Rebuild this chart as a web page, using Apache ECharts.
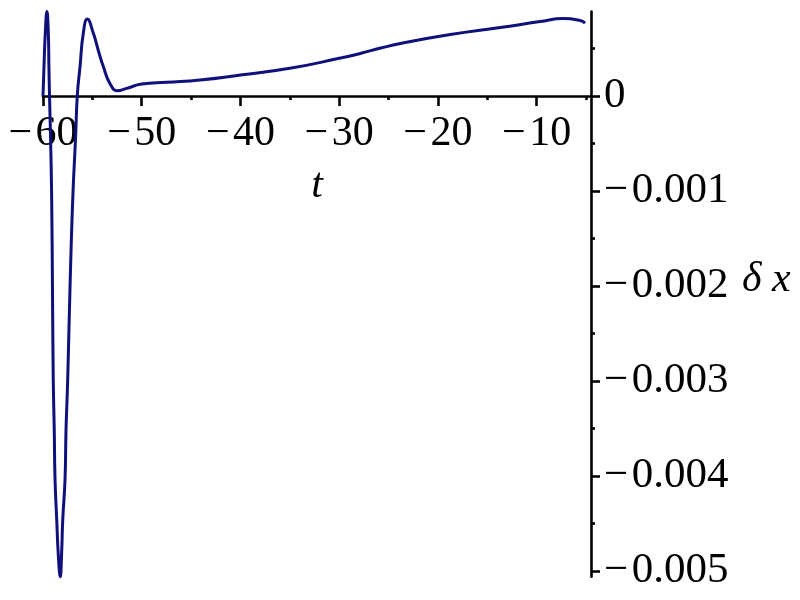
<!DOCTYPE html>
<html>
<head>
<meta charset="utf-8">
<script src="https://cdn.jsdelivr.net/npm/echarts@6/dist/echarts.min.js"></script>
<style>
html,body{margin:0;padding:0;background:#fff;}
#chart{width:800px;height:600px;}
</style>
</head>
<body>
<div id="chart"></div>
<script>
// t values and delta-x values
const tValues = [
  -60.00, -59.90, -59.77, -59.60, -59.46, -59.40, -59.34, -59.24, -59.12, -59.04,
  -58.96, -58.86, -58.78, -58.61, -58.45, -58.25, -58.12, -58.00, -57.77, -57.67,
  -57.50, -57.27, -56.99, -56.69, -56.53, -56.25, -55.92, -55.51, -54.90, -54.40,
  -53.89, -53.21, -52.47, -51.52, -50.00, -47.47, -44.10, -40.00, -35.00, -30.00,
  -27.80, -25.80, -23.80, -18.75, -13.70, -9.66, -7.30, -5.60, -5.10
];
const dxValues = [
  0.00000, 0.00031, 0.00066, 0.00089, 0.00066, 0.00031, 0.00000, -0.00041, -0.00109, -0.00204,
  -0.00299, -0.00352, -0.00404, -0.00446, -0.00483, -0.00506, -0.00483, -0.00446, -0.00404, -0.00352,
  -0.00299, -0.00204, -0.00109, -0.00041, 0.00000, 0.00031, 0.00066, 0.00081, 0.00066, 0.00048,
  0.00031, 0.00013, 0.000056, 0.000081, 0.000126, 0.000144, 0.000168, 0.000221, 0.000292, 0.000397,
  0.000450, 0.000505, 0.000553, 0.000647, 0.000721, 0.000784, 0.000816, 0.000795, 0.000768
];
const xTicks = [-60, -50, -40, -30, -20, -10];
const yTicks = [-0.005, -0.004, -0.003, -0.002, -0.001, 0];

const xMin = -60, xMax = -4.5;
const yMin = -0.00506, yMax = 0.00089;

const data = tValues.map((t, i) => [t, dxValues[i]]);

function fmt(v) {
  if (v === 0) return '0';
  const s = String(Math.abs(v));
  return (v < 0 ? '\u2212\u200a' : '') + s;
}

const W = 800, H = 600;
const gridTop = 11.5, gridBottom = 23.3;
const gridH = H - gridTop - gridBottom;
// place the horizontal axis where y = 0 falls
const xAxisOffset = -gridH * (0 - yMin) / (yMax - yMin);

const font = 'Liberation Serif';
const chart = echarts.init(document.getElementById('chart'));
chart.setOption({
  animation: false,
  backgroundColor: '#ffffff',
  grid: { left: 43, right: 209, top: gridTop, bottom: gridBottom, containLabel: false, outerBoundsMode: 'none' },
  xAxis: {
    type: 'value',
    min: xMin, max: xMax,
    interval: 10,
    position: 'bottom',
    offset: xAxisOffset,
    name: 't',
    nameLocation: 'middle',
    nameGap: 69,
    nameTextStyle: { fontFamily: font, fontStyle: 'italic', fontSize: 42, color: '#000' },
    axisLine: { onZero: false, lineStyle: { color: '#000', width: 2.6 } },
    axisTick: { show: true, length: 10, customValues: xTicks, lineStyle: { color: '#000', width: 2.6 } },
    minorTick: { show: true, splitNumber: 2, length: 4, lineStyle: { color: '#000', width: 2.6 } },
    axisLabel: { customValues: xTicks, formatter: fmt, fontFamily: font, fontSize: 42, color: '#000', margin: 17 },
    splitLine: { show: false },
    minorSplitLine: { show: false }
  },
  yAxis: {
    type: 'value',
    min: yMin, max: yMax,
    position: 'right',
    name: '\u03b4 x',
    nameLocation: 'middle',
    nameRotate: 0,
    nameGap: 151,
    nameTextStyle: { fontFamily: font, fontStyle: 'italic', fontSize: 42, color: '#000', verticalAlign: 'bottom', lineHeight: 28 },
    axisLine: { onZero: false, lineStyle: { color: '#000', width: 2.6 } },
    axisTick: { show: true, length: 9, customValues: yTicks, lineStyle: { color: '#000', width: 2.6 } },
    minorTick: { show: true, splitNumber: 2, length: 4, lineStyle: { color: '#000', width: 2.6 } },
    axisLabel: { customValues: yTicks, formatter: fmt, fontFamily: font, fontSize: 43, color: '#000', margin: 13 },
    splitLine: { show: false },
    minorSplitLine: { show: false }
  },
  series: [{
    type: 'line',
    data: data,
    showSymbol: false,
    smooth: 0.5,
    clip: false,
    lineStyle: { color: '#10107c', width: 3 }
  }]
});
</script>
</body>
</html>
